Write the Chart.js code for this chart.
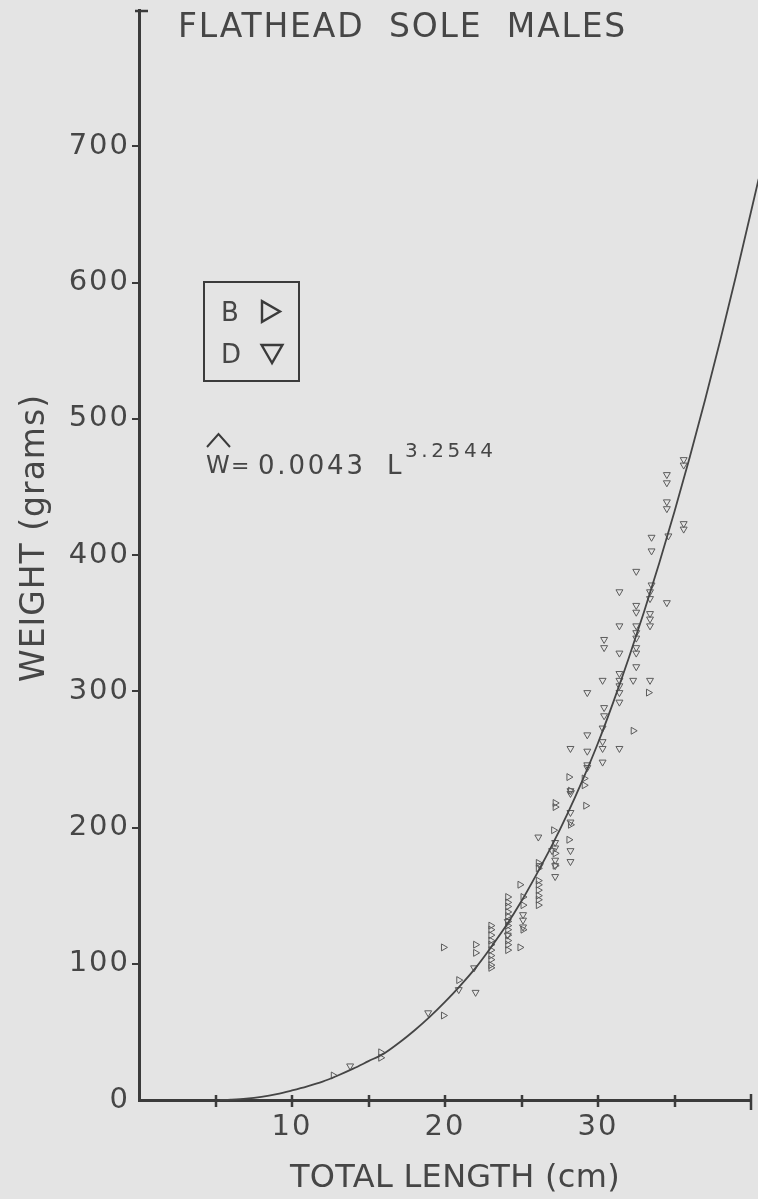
<!DOCTYPE html>
<html>
<head>
<meta charset="utf-8">
<title>Flathead sole males – length/weight</title>
<script src="https://cdn.jsdelivr.net/npm/chart.js@4.4.0/dist/chart.umd.min.js"></script>
<style>
  html, body { margin: 0; padding: 0; background: #e4e4e4; }
  #wrap { width: 758px; height: 1199px; position: relative; }
  canvas { display: block; }
</style>
</head>
<body>
<div id="wrap"><canvas id="chart" width="758" height="1199"></canvas></div>
<script>
// ---- axis ticks ----
const xTickValues = [5, 10, 15, 20, 25, 30, 35];
const xTickLabels = { 10: '10', 20: '20', 30: '30' };
const yTickLabels = [0, 100, 200, 300, 400, 500, 600, 700];

// ---- fitted curve W = 0.0043 L^3.2544, traced as drawn ----
const fitA = '0.0043';
const fitB = '3.2544';
const curveLength = [5.3, 6, 7, 8, 9, 10, 11, 12, 13, 14, 15, 16, 17, 18, 19, 20, 21, 22, 23, 24, 25, 26, 27, 28, 29, 30, 31, 32, 33, 34, 35, 36, 37, 38, 39, 40.5];
const curveWeight = [0, 0.3, 1, 2.3, 4.3, 7, 10, 13.5, 18, 23, 28.5, 34, 42, 51, 61, 72, 84, 97, 112, 128, 146, 166, 187, 210, 235, 262, 292, 324, 358, 394, 432, 472, 514, 558, 604, 676];

// ---- group B (right-pointing triangles) ----
const bLength = [12.7, 15.8, 15.8, 19.9, 19.9, 20.9, 22.0, 22.0,
  23.0, 23.0, 23.0, 23.0, 23.0, 23.0, 23.0, 23.0, 23.0, 23.0,
  24.1, 24.1, 24.1, 24.1, 24.1, 24.1, 24.1, 24.1, 24.1, 24.1, 24.1, 24.1,
  24.9, 25.1, 25.1, 25.1, 24.9,
  26.1, 26.1, 26.1, 26.1, 26.1, 26.1, 26.1, 26.1,
  27.2, 27.2, 27.1, 27.2, 27.2, 28.1, 28.2, 28.2, 28.1,
  29.1, 29.1, 29.2, 32.3, 33.3];
const bWeight = [18, 35, 31, 112, 62, 88, 114, 108,
  128, 125, 121, 117, 114, 110, 106, 103, 99, 97,
  149, 145, 142, 138, 135, 131, 128, 125, 121, 117, 114, 110,
  158, 149, 143, 125, 112,
  174, 170, 161, 158, 154, 150, 147, 143,
  218, 215, 198, 181, 172, 237, 227, 202, 191,
  236, 231, 216, 271, 299];

// ---- group D (down-pointing triangles) ----
const dLength = [13.8, 18.9, 20.9, 22.0, 21.9,
  24.1, 24.1, 25.1, 25.1, 25.1,
  26.1, 26.2, 27.0, 27.2, 27.2, 27.2, 27.2, 27.2, 28.2, 28.2,
  28.2, 28.2, 28.2, 28.2, 28.2,
  29.3, 29.3, 29.3, 29.3, 29.3,
  30.3, 30.4, 30.4, 30.3, 30.3, 30.3, 30.3, 30.4, 30.4,
  31.4, 31.4, 31.4, 31.4, 31.4, 31.4, 31.4, 31.4, 31.4,
  32.3, 32.5, 32.5, 32.5, 32.5, 32.5, 32.5, 32.5, 32.5, 32.5,
  33.4, 33.5, 33.5, 33.5, 33.4, 33.4, 33.4, 33.4, 33.4,
  34.5, 34.5, 34.5, 34.5, 34.6, 34.5,
  35.6, 35.6, 35.6, 35.6];
const dWeight = [25, 64, 81, 79, 97,
  131, 121, 136, 132, 127,
  193, 172, 183, 189, 185, 176, 172, 164, 175, 183,
  258, 227, 225, 211, 204,
  299, 268, 256, 246, 244,
  308, 288, 282, 273, 263, 258, 248, 338, 332,
  308, 304, 299, 292, 258, 373, 348, 328, 313,
  308, 388, 363, 358, 348, 343, 339, 332, 328, 318,
  308, 413, 403, 378, 373, 368, 357, 353, 348,
  459, 453, 439, 434, 414, 365,
  470, 466, 423, 419];

const INK = '#3b3b3b';
const TEXT = '#464646';
const MARK = '#5c5c5c';
const FONT = '"DejaVu Sans", sans-serif';

function toPoints(xs, ys) { return xs.map((x, i) => ({ x: x, y: ys[i] })); }

function drawTriangle(ctx, cx, cy, r, rotationDeg) {
  let rad = rotationDeg * Math.PI / 180;
  ctx.beginPath();
  for (let i = 0; i < 3; i++) {
    const px = cx + Math.sin(rad) * r;
    const py = cy - Math.cos(rad) * r;
    if (i === 0) ctx.moveTo(px, py); else ctx.lineTo(px, py);
    rad += 2 * Math.PI / 3;
  }
  ctx.closePath();
  ctx.stroke();
}

function spacedText(ctx, text, x, y, size, spacing) {
  ctx.font = size + 'px ' + FONT;
  ctx.letterSpacing = spacing + 'px';
  ctx.fillText(text, x, y);
}

const decor = {
  id: 'decor',
  beforeDraw(chart) {
    const ctx = chart.ctx;
    ctx.save();
    ctx.fillStyle = '#e4e4e4';
    ctx.fillRect(0, 0, chart.width, chart.height);
    ctx.restore();
    ctx.letterSpacing = '2px';
  },
  afterDraw(chart) {
    const ctx = chart.ctx;
    const xs = chart.scales.x;
    const ys = chart.scales.y;
    const base = chart.chartArea.bottom;
    ctx.save();
    ctx.strokeStyle = INK;
    ctx.lineWidth = 2.5;
    ctx.lineCap = 'butt';
    // ticks crossing the length axis
    xTickValues.forEach(v => {
      const px = Math.round(xs.getPixelForValue(v));
      ctx.beginPath(); ctx.moveTo(px, base - 5); ctx.lineTo(px, base + 7); ctx.stroke();
    });
    // end caps of both axes
    const xEnd = Math.round(xs.getPixelForValue(xs.max));
    ctx.beginPath(); ctx.moveTo(xEnd, base - 6); ctx.lineTo(xEnd, base + 10); ctx.stroke();
    const yTop = Math.round(ys.getPixelForValue(ys.max));
    const yAxisX = chart.chartArea.left;
    ctx.beginPath(); ctx.moveTo(yAxisX - 4, yTop + 1); ctx.lineTo(yAxisX + 9, yTop + 1); ctx.stroke();

    ctx.fillStyle = TEXT;
    ctx.textAlign = 'left';
    ctx.textBaseline = 'alphabetic';
    // chart title
    spacedText(ctx, 'FLATHEAD  SOLE  MALES', 178, 37, 33, 1.8);
    // axis titles
    spacedText(ctx, 'TOTAL LENGTH (cm)', 290, 1187, 32, 0.3);
    ctx.save();
    ctx.translate(44, 682);
    ctx.rotate(-Math.PI / 2);
    spacedText(ctx, 'WEIGHT (grams)', 0, 0, 33, 1);
    ctx.restore();

    // key box
    ctx.lineWidth = 2;
    ctx.strokeRect(204, 282, 95, 99);
    spacedText(ctx, 'B', 221, 321, 26, 0);
    spacedText(ctx, 'D', 221, 363, 26, 0);
    ctx.lineWidth = 2.4;
    ctx.lineJoin = 'miter';
    drawTriangle(ctx, 268, 311.5, 12, 90);
    drawTriangle(ctx, 272, 351, 12, 180);

    // fitted equation
    spacedText(ctx, 'W', 206, 473, 24, 0);
    ctx.lineWidth = 2;
    ctx.beginPath(); ctx.moveTo(207, 447); ctx.lineTo(218.5, 434); ctx.lineTo(230, 447); ctx.stroke();
    spacedText(ctx, '=', 231, 473, 22, 0);
    spacedText(ctx, fitA, 258, 474, 26, 2.8);
    spacedText(ctx, 'L', 387, 474, 26, 0);
    spacedText(ctx, fitB, 405, 457, 20, 3.6);
    ctx.restore();
  }
};

const ctx = document.getElementById('chart').getContext('2d');
new Chart(ctx, {
  type: 'scatter',
  data: {
    datasets: [
      {
        label: 'curve',
        type: 'line',
        data: toPoints(curveLength, curveWeight),
        borderColor: '#454545',
        borderWidth: 1.8,
        pointRadius: 0,
        fill: false,
        cubicInterpolationMode: 'monotone',
        clip: false,
        order: 0
      },
      {
        label: 'B',
        data: toPoints(bLength, bWeight),
        pointStyle: 'triangle',
        rotation: 90,
        pointRadius: 4,
        borderWidth: 1,
        borderColor: MARK,
        backgroundColor: 'rgba(0,0,0,0)',
        order: 1
      },
      {
        label: 'D',
        data: toPoints(dLength, dWeight),
        pointStyle: 'triangle',
        rotation: 180,
        pointRadius: 4,
        borderWidth: 1,
        borderColor: MARK,
        backgroundColor: 'rgba(0,0,0,0)',
        order: 2
      }
    ]
  },
  options: {
    responsive: false,
    animation: false,
    devicePixelRatio: 1,
    layout: { padding: { top: 10, right: 7, left: 0, bottom: 0 } },
    plugins: {
      legend: { display: false },
      tooltip: { enabled: false },
      title: { display: false }
    },
    scales: {
      x: {
        type: 'linear',
        position: 'bottom',
        min: 0,
        max: 40,
        afterFit(scale) {
          scale.height = 99;
          scale.paddingLeft = 0;
          scale.paddingRight = 0;
        },
        afterBuildTicks(scale) {
          scale.ticks = [0, ...xTickValues, 40].map(v => ({ value: v }));
        },
        ticks: {
          autoSkip: false,
          maxRotation: 0,
          padding: 2,
          color: TEXT,
          font: { family: FONT, size: 29 },
          callback: v => xTickLabels[v] || ''
        },
        grid: { display: false },
        border: { display: true, color: INK, width: 3 }
      },
      y: {
        type: 'linear',
        position: 'left',
        min: 0,
        max: 800,
        afterFit(scale) {
          scale.width = 139;
          scale.paddingTop = 0;
          scale.paddingBottom = 0;
        },
        afterBuildTicks(scale) {
          scale.ticks = [...yTickLabels, 800].map(v => ({ value: v }));
        },
        ticks: {
          autoSkip: false,
          padding: 2,
          color: TEXT,
          font: { family: FONT, size: 29 },
          callback: v => (yTickLabels.includes(v) ? String(v) : '')
        },
        grid: {
          drawOnChartArea: false,
          drawTicks: true,
          tickLength: 7,
          lineWidth: 2,
          tickColor: c => (c.tick && c.tick.value > 0 && c.tick.value < 800 ? INK : 'rgba(0,0,0,0)')
        },
        border: { display: true, color: INK, width: 3 }
      }
    }
  },
  plugins: [decor]
});
</script>
</body>
</html>
